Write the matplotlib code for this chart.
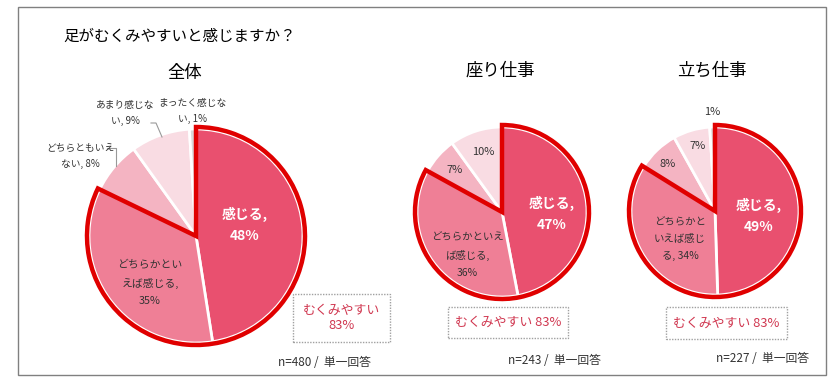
import matplotlib
matplotlib.use('Agg')
import matplotlib.pyplot as plt
from matplotlib.patches import Wedge, Rectangle

plt.rcParams['font.family'] = ['Noto Sans CJK JP', 'DejaVu Sans']

# データ
categories = ['感じる', 'どちらかといえば感じる', 'どちらともいえない', 'あまり感じない', 'まったく感じない']
zentai = [48, 35, 8, 9, 1]
suwari = [47, 36, 7, 10, 0]
tachi = [49, 34, 8, 7, 1]
group_titles = ['全体', '座り仕事', '立ち仕事']
n_counts = [480, 243, 227]
mukumi = [83, 83, 83]

colors = ['#E9506F', '#EF7F96', '#F4B4C2', '#F9DCE3', '#D9D9D9']
RED = '#E00000'
W, H = 840, 386


def Y(y):
    # ピクセル座標(上から)をデータ座標に変換
    return H - y


fig = plt.figure(figsize=(W / 100, H / 100), dpi=100)
ax = fig.add_axes([0, 0, 1, 1])


def draw_pie(values, cx, cy, r):
    vals = [v for v in values]
    ax.pie(vals, center=(cx, Y(cy)), radius=r, startangle=90, counterclock=False,
           colors=colors, wedgeprops=dict(edgecolor='white', linewidth=2))
    # むくみやすい(感じる+どちらかといえば)の赤枠
    total = sum(vals)
    t2 = 90
    t1 = 90 - 360 * (vals[0] + vals[1]) / total
    ax.add_patch(Wedge((cx, Y(cy)), r + 2, t1, t2, fill=False, edgecolor=RED,
                       linewidth=3.2, joinstyle='miter', zorder=5))


pies = [(zentai, 196, 236, 107), (suwari, 502, 212, 85), (tachi, 715, 211, 84)]
for vals, cx, cy, r in pies:
    draw_pie(vals, cx, cy, r)

# 外枠
ax.add_patch(Rectangle((18, Y(375)), 808, 368, fill=False, edgecolor='#808080', linewidth=1))

ax.text(63, Y(36), '足がむくみやすいと感じますか？', fontsize=11.2, ha='left', va='center')

title_pos = [(185, 73), (500, 71), (712, 71)]
for t, (x, y) in zip(group_titles, title_pos):
    ax.text(x, Y(y), t, fontsize=12.5, ha='center', va='center')

dark = '#333333'
small = 7.0
# 全体のラベル
ax.text(245, Y(225), f'{categories[0]},\n{zentai[0]}%', color='white', fontsize=10, fontweight='bold',
        ha='center', va='center', linespacing=1.6)
ax.text(150, Y(283), f'どちらかとい\nえば感じる,\n{zentai[1]}%', color=dark, fontsize=7.8,
        ha='center', va='center', linespacing=1.85)
ax.text(80, Y(156), f'どちらともいえ\nない, {zentai[2]}%', color=dark, fontsize=small,
        ha='center', va='center', linespacing=1.85)
ax.text(125, Y(113), f'あまり感じな\nい, {zentai[3]}%', color=dark, fontsize=small,
        ha='center', va='center', linespacing=1.85)
ax.text(192, Y(111), f'まったく感じな\nい, {zentai[4]}%', color=dark, fontsize=small,
        ha='center', va='center', linespacing=1.85)
# 引き出し線
ax.plot([107, 116, 116], [Y(148), Y(148), Y(166)], color='#999999', linewidth=0.8)
ax.plot([151, 156, 162], [Y(123), Y(123), Y(137)], color='#999999', linewidth=0.8)

# 座り仕事
ax.text(552, Y(214), f'{categories[0]},\n{suwari[0]}%', color='white', fontsize=10, fontweight='bold',
        ha='center', va='center', linespacing=1.6)
ax.text(467, Y(255), f'どちらかといえ\nば感じる,\n{suwari[1]}%', color=dark, fontsize=7.5,
        ha='center', va='center', linespacing=1.85)
ax.text(455, Y(170), f'{suwari[2]}%', color=dark, fontsize=8, ha='center', va='center')
ax.text(483, Y(152), f'{suwari[3]}%', color=dark, fontsize=8, ha='center', va='center')

# 立ち仕事
ax.text(759, Y(216), f'{categories[0]},\n{tachi[0]}%', color='white', fontsize=10, fontweight='bold',
        ha='center', va='center', linespacing=1.6)
ax.text(680, Y(239), f'どちらかと\nいえば感じ\nる, {tachi[1]}%', color=dark, fontsize=7.5,
        ha='center', va='center', linespacing=1.85)
ax.text(668, Y(164), f'{tachi[2]}%', color=dark, fontsize=8, ha='center', va='center')
ax.text(698, Y(146), f'{tachi[3]}%', color=dark, fontsize=8, ha='center', va='center')
ax.text(712, Y(112), f'{tachi[4]}%', color=dark, fontsize=8, ha='center', va='center')

# むくみやすいボックス
box_red = '#D0364F'
boxes = [(293, 294, 97, 48), (448, 307, 120, 31), (666, 307, 121, 32)]
for i, (x, y, w, h) in enumerate(boxes):
    ax.add_patch(Rectangle((x, Y(y + h)), w, h, fill=False, edgecolor='#A0A0A0',
                           linewidth=1, linestyle=(0, (1, 1))))
    if i == 0:
        txt = f'むくみやすい\n{mukumi[i]}%'
    else:
        txt = f'むくみやすい {mukumi[i]}%'
    ax.text(x + w / 2, Y(y + h / 2), txt, color=box_red, fontsize=9.3, ha='center', va='center',
            linespacing=1.25)

n_pos = [(324, 362), (554, 361), (762, 359)]
for n, (x, y) in zip(n_counts, n_pos):
    ax.text(x, Y(y), f'n={n} /  単一回答', fontsize=8.5, color=dark, ha='center', va='center')

ax.set_xlim(0, W)
ax.set_ylim(0, H)
ax.set_aspect('equal')
ax.axis('off')

fig.savefig('out.png', dpi=100)
